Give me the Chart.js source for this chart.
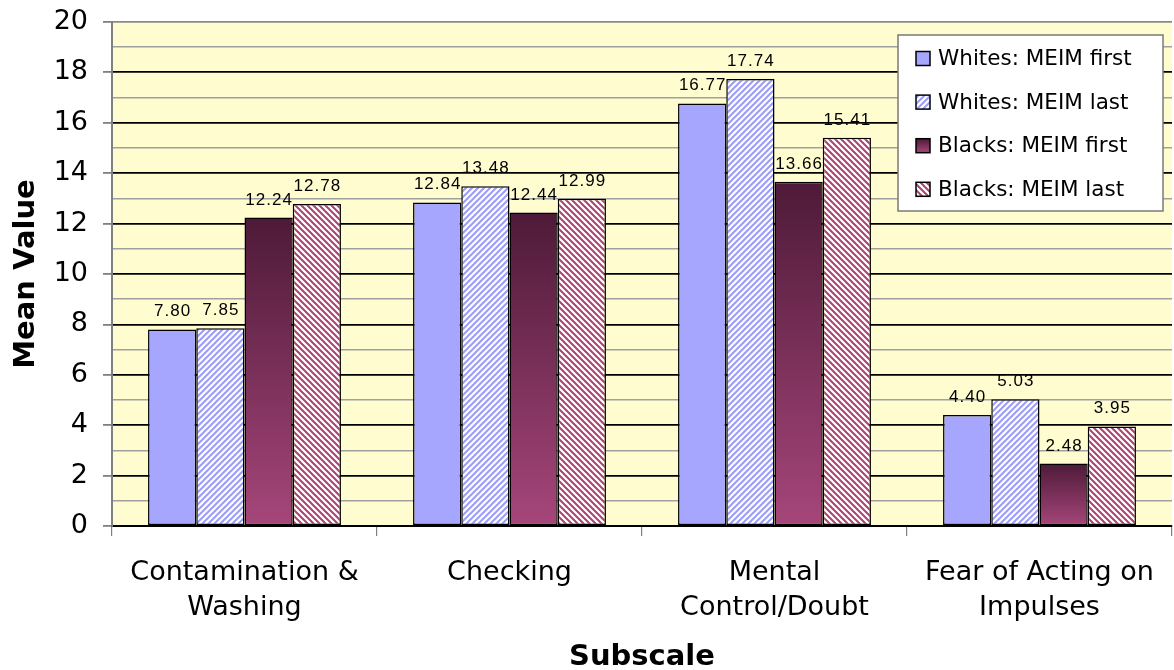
<!DOCTYPE html>
<html>
<head>
<meta charset="utf-8">
<script src="https://cdn.jsdelivr.net/npm/chart.js@4/dist/chart.umd.min.js"></script>
<style>
  html, body { margin: 0; padding: 0; background: #ffffff; }
  #wrap { width: 1174px; height: 670px; }
</style>
</head>
<body>
<div id="wrap"><canvas id="chart" width="1174" height="670"></canvas></div>
<script>
// Subscale categories (multi-line tick labels)
const categories = [
  ['Contamination &', 'Washing'],
  ['Checking'],
  ['Mental', 'Control/Doubt'],
  ['Fear of Acting on', 'Impulses']
];
// Mean values per group
const whitesFirst = [7.80, 12.84, 16.77, 4.40];
const whitesLast  = [7.85, 13.48, 17.74, 5.03];
const blacksFirst = [12.24, 12.44, 13.66, 2.48];
const blacksLast  = [12.78, 12.99, 15.41, 3.95];
const seriesNames = ['Whites: MEIM first', 'Whites: MEIM last', 'Blacks: MEIM first', 'Blacks: MEIM last'];
const yTicks = [0, 2, 4, 6, 8, 10, 12, 14, 16, 18, 20];

const FONT = '"DejaVu Sans", Verdana, sans-serif';
const BLUE = '#A6A6FF';
const BLUE_LINE = '#9C9CF8';
const PLUM_LINE = '#A8446F';
const PLUM_TOP = '#4E1A38';
const PLUM_BOTTOM = '#A6467A';

// Diagonal hatch fill; dir = 1 for "/" stripes, -1 for "\" stripes
function hatch(color, dir) {
  const s = 6;
  const c = document.createElement('canvas');
  c.width = s; c.height = s;
  const g = c.getContext('2d');
  g.fillStyle = '#ffffff';
  g.fillRect(0, 0, s, s);
  g.strokeStyle = color;
  g.lineWidth = 2;
  g.beginPath();
  if (dir > 0) {
    g.moveTo(-1, s + 1); g.lineTo(s + 1, -1);
    g.moveTo(-1, 1); g.lineTo(1, -1);
    g.moveTo(s - 1, s + 1); g.lineTo(s + 1, s - 1);
  } else {
    g.moveTo(-1, -1); g.lineTo(s + 1, s + 1);
    g.moveTo(s - 1, -1); g.lineTo(s + 1, 1);
    g.moveTo(-1, s - 1); g.lineTo(1, s + 1);
  }
  g.stroke();
  return g.createPattern(c, 'repeat');
}
const blueHatch = hatch(BLUE_LINE, 1);
const plumHatch = hatch(PLUM_LINE, -1);

// Vertical gradient running from each bar's top to its base
function plumGradient(ctx) {
  const chart = ctx.chart;
  if (!chart.chartArea || ctx.raw == null) return PLUM_BOTTOM;
  const y = chart.scales.y;
  const top = y.getPixelForValue(ctx.raw);
  const base = y.getPixelForValue(0);
  const g = chart.ctx.createLinearGradient(0, top, 0, base);
  g.addColorStop(0, PLUM_TOP);
  g.addColorStop(1, PLUM_BOTTOM);
  return g;
}

// Pale yellow plot background
const plotBackground = {
  id: 'plotBackground',
  beforeDraw(chart) {
    const { ctx, chartArea: a } = chart;
    ctx.save();
    ctx.fillStyle = '#FFFDD0';
    ctx.fillRect(a.left, a.top, a.right - a.left, a.bottom - a.top);
    ctx.restore();
  }
};

// Value labels above each bar
const valueLabels = {
  id: 'valueLabels',
  afterDatasetsDraw(chart) {
    const ctx = chart.ctx;
    ctx.save();
    ctx.font = '17px "Liberation Sans", Arial, sans-serif';
    if ('letterSpacing' in ctx) ctx.letterSpacing = '1px';
    ctx.fillStyle = '#000';
    ctx.textAlign = 'center';
    ctx.textBaseline = 'alphabetic';
    chart.data.datasets.forEach((ds, i) => {
      chart.getDatasetMeta(i).data.forEach((bar, j) => {
        ctx.fillText(ds.data[j].toFixed(2), bar.x + 0.5, bar.y - 13);
      });
    });
    ctx.restore();
  }
};

// Boxed legend inside the plot, upper right
const boxLegend = {
  id: 'boxLegend',
  afterDraw(chart) {
    const ctx = chart.ctx;
    const a = chart.chartArea;
    const bx = a.right - 274, by = a.top + 13, bw = 265, bh = 176;
    ctx.save();
    ctx.fillStyle = '#ffffff';
    ctx.fillRect(bx, by, bw, bh);
    ctx.strokeStyle = '#7a7a7a';
    ctx.lineWidth = 1.5;
    ctx.strokeRect(bx, by, bw, bh);
    ctx.font = '21.5px ' + FONT;
    ctx.textBaseline = 'middle';
    ctx.textAlign = 'left';
    chart.data.datasets.forEach((ds, i) => {
      const cy = by + 23.5 + i * 43.6;
      const sx = bx + 18, sy = cy - 7, sw = 14, sh = 14;
      let fill = ds.legendFill;
      if (fill === 'gradient') {
        const g = ctx.createLinearGradient(0, sy, 0, sy + sh);
        g.addColorStop(0, PLUM_TOP);
        g.addColorStop(1, PLUM_BOTTOM);
        fill = g;
      }
      ctx.fillStyle = fill;
      ctx.fillRect(sx, sy, sw, sh);
      ctx.strokeStyle = '#000';
      ctx.lineWidth = 1.5;
      ctx.strokeRect(sx, sy, sw, sh);
      ctx.fillStyle = '#000';
      ctx.fillText(ds.label, bx + 40, cy + 1);
    });
    ctx.restore();
  }
};

new Chart(document.getElementById('chart'), {
  type: 'bar',
  data: {
    labels: categories,
    datasets: [
      { label: seriesNames[0], data: whitesFirst, backgroundColor: BLUE, legendFill: BLUE },
      { label: seriesNames[1], data: whitesLast, backgroundColor: blueHatch, legendFill: blueHatch },
      { label: seriesNames[2], data: blacksFirst, backgroundColor: plumGradient, legendFill: 'gradient' },
      { label: seriesNames[3], data: blacksLast, backgroundColor: plumHatch, legendFill: plumHatch }
    ]
  },
  options: {
    responsive: false,
    animation: false,
    devicePixelRatio: 1,
    layout: { padding: { left: 0, right: 2, top: 22, bottom: 0 } },
    datasets: {
      bar: {
        borderColor: '#000000',
        borderWidth: 1.5,
        borderSkipped: false,
        categoryPercentage: 0.728,
        barPercentage: 1.0
      }
    },
    plugins: {
      legend: { display: false },
      tooltip: { enabled: false },
      title: { display: false }
    },
    scales: {
      x: {
        offset: true,
        grid: {
          offset: true,
          drawOnChartArea: false,
          drawTicks: true,
          tickLength: 10,
          color: '#808080',
          lineWidth: 1.2
        },
        border: { display: true, color: '#000000', width: 2 },
        ticks: {
          font: { family: FONT, size: 27, lineHeight: 1.3 },
          color: '#000000',
          padding: 19,
          maxRotation: 0,
          minRotation: 0,
          autoSkip: false
        },
        title: {
          display: true,
          text: 'Subscale',
          font: { family: FONT, size: 29, weight: 'bold', lineHeight: 0.86 },
          color: '#000000',
          padding: { top: 0, bottom: 0 }
        },
        afterFit(scale) {
          scale.height = 144;
          scale.paddingLeft = 0;
          scale.paddingRight = 0;
        }
      },
      y: {
        min: 0,
        max: 20,
        afterBuildTicks(scale) {
          const t = [];
          for (let v = 0; v <= 20; v++) t.push({ value: v });
          scale.ticks = t;
        },
        grid: {
          color: (c) => (c.tick && c.tick.value % 2 === 1) ? '#A0A0A0' : (c.tick && c.tick.value === 20 ? '#8a8a8a' : '#000000'),
          lineWidth: (c) => (c.tick && c.tick.value % 2 === 1) ? 1.6 : 1.8,
          tickColor: (c) => (c.tick && yTicks.includes(c.tick.value)) ? '#808080' : 'rgba(0,0,0,0)',
          tickLength: 9,
          drawTicks: true
        },
        border: { display: true, color: '#808080', width: 2 },
        ticks: {
          callback: (v) => yTicks.includes(v) ? String(v) : '',
          font: { family: FONT, size: 27 },
          color: '#000000',
          padding: 15,
          autoSkip: false
        },
        title: {
          display: true,
          text: 'Mean Value',
          font: { family: FONT, size: 29, weight: 'bold', lineHeight: 1 },
          color: '#000000',
          padding: { top: 12, bottom: 0 }
        },
        afterFit(scale) {
          scale.width = 112;
          scale.paddingTop = 0;
          scale.paddingBottom = 0;
        }
      }
    }
  },
  plugins: [plotBackground, valueLabels, boxLegend]
});
</script>
</body>
</html>
